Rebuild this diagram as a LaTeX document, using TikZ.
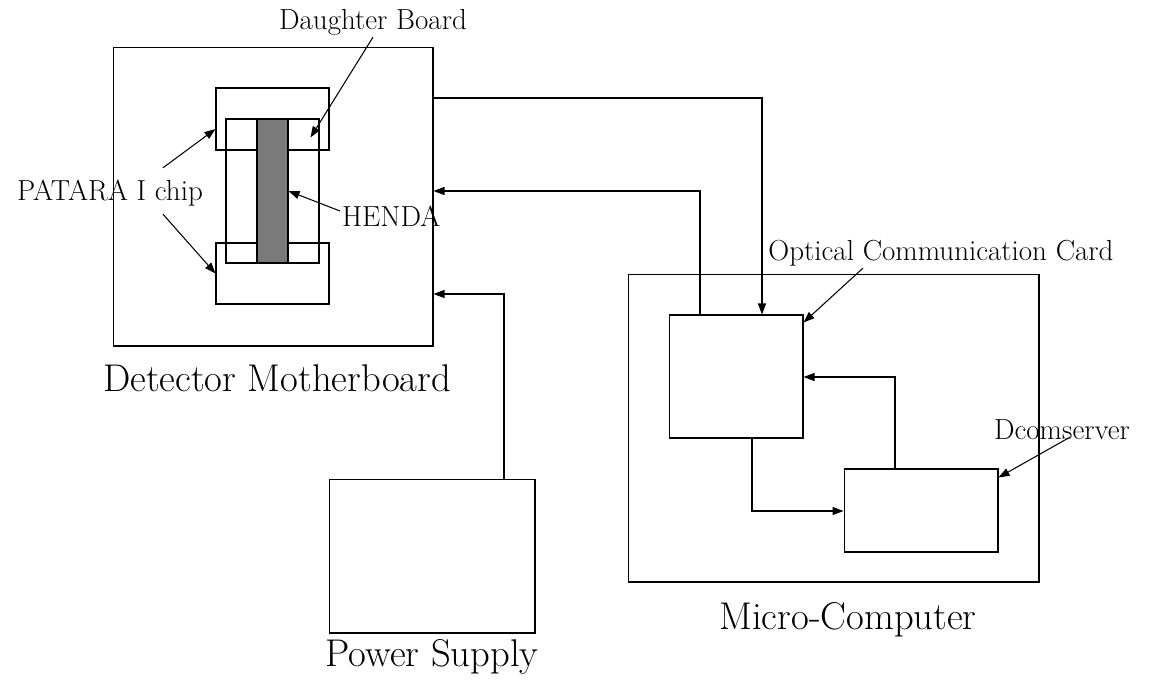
\documentclass[tikz,border=0pt]{standalone}
\usepackage{tikz}
\usepackage{xcolor}
\usetikzlibrary{arrows.meta, positioning, calc}
\definecolor{HENDA_Gray}{HTML}{7A7A7A}

\tikzset{
    board/.style={draw, semithick, rectangle, inner sep=0pt},
    arr/.style={semithick, -{Triangle[length=0.22cm, width=0.16cm]}},
    smalltxt/.style={font=\fontsize{16.5}{19}\selectfont, inner sep=1pt},
    bigtxt/.style={font=\fontsize{22}{26}\selectfont, inner sep=1pt}
}

\begin{document}
\begin{tikzpicture}[x=0.02cm, y=-0.02cm]

    \useasboundingbox (0,0) rectangle (1151,680);

    % === Detector Motherboard with daughter board ===
    \node[board, minimum width=6.4cm, minimum height=5.98cm] (mother) at (273,196.5) {};
    \node[board, minimum width=2.26cm, minimum height=1.24cm] (chipA) at (272.5,119) {};
    \node[board, minimum width=2.26cm, minimum height=1.22cm] (chipB) at (272.5,273.5) {};
    \node[board, minimum width=1.86cm, minimum height=2.88cm] (daughter) at (272.5,191) {};
    \node[board, fill=HENDA_Gray, minimum width=0.62cm, minimum height=2.88cm] (henda) at (272.5,191) {};
    \node[bigtxt] (lblMother) at (277,378) {Detector Motherboard};

    % labels of the daughter board parts
    \node[smalltxt] (lblDaughter) at (373,22) {Daughter Board};
    \draw[arr] (lblDaughter.south) -- ([xshift=-0.18cm, yshift=-0.38cm]daughter.north east);
    \node[smalltxt] (lblPatara) at (110,193) {PATARA I chip};
    \draw[arr] ([xshift=-0.84cm, yshift=0.2cm]lblPatara.north east) -- ([yshift=-0.2cm]chipA.west);
    \draw[arr] ([xshift=-0.84cm, yshift=-0.12cm]lblPatara.south east) -- (chipB.west);
    \node[smalltxt, anchor=west] (lblHenda) at (340,216) {HENDA};
    \draw[arr] ([yshift=0.1cm]lblHenda.west) -- (henda.east);

    % === Power Supply ===
    \node[board, minimum width=4.12cm, minimum height=3.08cm] (power) at (432,556) {};
    \node[bigtxt] (lblPower) at (432,657) {Power Supply};

    % === Micro-Computer ===
    \node[board, minimum width=8.22cm, minimum height=6.16cm] (micro) at (833.5,428) {};
    \node[board, minimum width=2.68cm, minimum height=2.46cm] (optcard) at (736,376.5) {};
    \node[board, minimum width=3.08cm, minimum height=1.66cm] (dcom) at (921,510.5) {};
    \node[bigtxt] (lblMicro) at (848,620) {Micro-Computer};

    \node[smalltxt] (lblOptical) at (941,253) {Optical Communication Card};
    \draw[arr] ([xshift=-1.56cm]lblOptical.south) -- ([yshift=-0.16cm]optcard.north east);
    \node[smalltxt] (lblDcom) at (1062,430) {Dcomserver};
    \draw[arr] ([xshift=0.16cm, yshift=0.1cm]lblDcom.south) -- ([yshift=-0.18cm]dcom.north east);

    % === connections ===
    \draw[arr] (mother.east |- 0,98) -| (762,0 |- optcard.north);
    \draw[arr] (700,0 |- optcard.north) |- (mother.east |- 0,191);
    \draw[arr] (504,0 |- power.north) |- (mother.east |- 0,294);
    \draw[arr] (895,0 |- dcom.north) |- (optcard.east |- 0,377);
    \draw[arr] (752,0 |- optcard.south) |- (dcom.west |- 0,511);

\end{tikzpicture}
\end{document}
